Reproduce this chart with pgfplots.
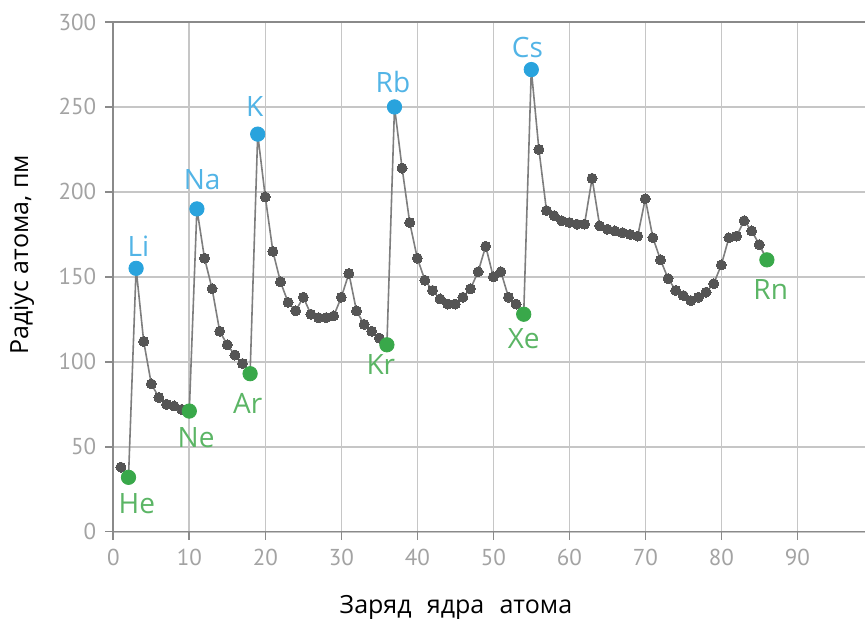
\documentclass[border=0pt]{standalone}
\usepackage{pgfplots}
\pgfplotsset{compat=1.18}
\usepackage{pgfplotstable}
\usepackage{fontspec}
\setmainfont{PT Sans}
\newfontfamily\labfont{Open Sans}
\definecolor{gridc}{HTML}{C6C6C6}
\definecolor{axisc}{HTML}{8A8A8A}
\definecolor{tickc}{HTML}{A3A3A3}
\definecolor{linec}{HTML}{7E7E7E}
\definecolor{markc}{HTML}{555555}
\definecolor{bluem}{HTML}{29A3DD}
\definecolor{bluet}{HTML}{52B4E6}
\definecolor{greenm}{HTML}{39A84A}
\definecolor{greent}{HTML}{5BB565}

\pgfplotstableread{
Z r
1 38
2 32
3 155
4 112
5 87
6 79
7 75
8 74
9 72
10 71
11 190
12 161
13 143
14 118
15 110
16 104
17 99
18 93
19 234
20 197
21 165
22 147
23 135
24 130
25 138
26 128
27 126
28 126
29 127
30 138
31 152
32 130
33 122
34 118
35 114
36 110
37 250
38 214
39 182
40 161
41 148
42 142
43 137
44 134
45 134
46 138
47 143
48 153
49 168
50 150
51 153
52 138
53 134
54 128
55 272
56 225
57 189
58 186
59 183
60 182
61 181
62 181
63 208
64 180
65 178
66 177
67 176
68 175
69 174
70 196
71 173
72 160
73 149
74 142
75 139
76 136
77 138
78 141
79 146
80 157
81 173
82 174
83 183
84 177
85 169
86 160
}\radii

\pgfplotstableread{
Z r
3 155
11 190
19 234
37 250
55 272
}\alkali

\pgfplotstableread{
Z r
2 32
10 71
18 93
36 110
54 128
86 160
}\noble

\begin{document}
\begin{tikzpicture}
\begin{axis}[
  scale only axis,
  width=380pt, height=254.85pt,
  xmin=0, xmax=100, ymin=0, ymax=300,
  axis line style={draw=axisc, line width=0.8pt},
  xtick={0,10,...,90}, ytick={0,50,100,150,200,250,300},
  xtick pos=bottom, ytick pos=left,
  xmajorgrids=true, ymajorgrids=true,
  major grid style={draw=gridc, line width=0.8pt},
  y grid style={draw=gridc, line width=1.1pt},
  tick style={draw=axisc, line width=0.8pt},
  major tick length=4pt,
  tick align=outside,
  tick label style={font=\fontsize{11.5}{13}\selectfont, text=tickc},
  /pgf/number format/assume math mode=true,
  xticklabel style={yshift=-1pt},
  yticklabel style={xshift=-1pt},
  xlabel={Заряд\hspace{0.35em} ядра\hspace{0.35em} атома},
  ylabel={Радіус атома, пм},
  label style={font=\labfont\fontsize{12.5}{14}\selectfont, text=black},
  xlabel style={at={(axis description cs:0.4509,-0.1477)}, anchor=center},
  ylabel style={at={(axis description cs:-0.1201,0.543)}, anchor=center},
  clip=false,
]
\addplot[draw=linec, line width=0.8pt, mark=*, mark size=2.5pt,
  mark options={fill=markc, draw=markc, line width=0pt}] table[x=Z, y=r] {\radii};
\addplot[only marks, mark=*, mark size=3.6pt,
  mark options={fill=bluem, draw=bluem}] table[x=Z, y=r] {\alkali};
\addplot[only marks, mark=*, mark size=3.6pt,
  mark options={fill=greenm, draw=greenm}] table[x=Z, y=r] {\noble};
\begin{scope}[every node/.style={font=\labfont\fontsize{14}{16}\selectfont, anchor=center, inner sep=0pt}]
\node[text=bluet] at (axis cs:3.3,168.2) {Li};
\node[text=bluet] at (axis cs:11.7,207) {Na};
\node[text=bluet] at (axis cs:18.6,250) {K};
\node[text=bluet] at (axis cs:36.8,264.7) {Rb};
\node[text=bluet] at (axis cs:54.5,284.7) {Cs};
\node[text=greent] at (axis cs:3.1,16.3) {He};
\node[text=greent] at (axis cs:10.9,55.2) {Ne};
\node[text=greent] at (axis cs:17.7,75.2) {Ar};
\node[text=greent] at (axis cs:35.2,98.7) {Kr};
\node[text=greent] at (axis cs:54.0,113.4) {Xe};
\node[text=greent] at (axis cs:86.5,142.3) {Rn};
\end{scope}
\end{axis}
\pgfresetboundingbox
\path[use as bounding box] (-56.65pt,-46.65pt) rectangle (375.85pt,265.85pt);
\end{tikzpicture}
\end{document}
